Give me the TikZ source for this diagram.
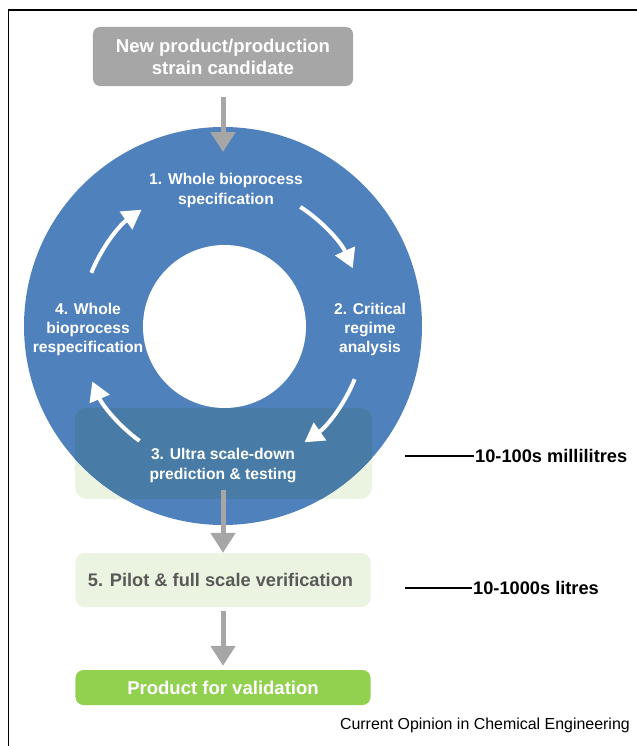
\documentclass[tikz,border=0pt]{standalone}
\usepackage{fontspec}
\setmainfont{Liberation Sans}
\usetikzlibrary{arrows.meta,calc}
\definecolor{boxgray}{HTML}{A6A6A6}
\definecolor{ringblue}{HTML}{4F81BD}
\definecolor{palegreen}{HTML}{EAF4E0}
\definecolor{overlapblue}{RGB}{72,123,166}
\definecolor{prodgreen}{HTML}{92D050}
\definecolor{darktext}{HTML}{595959}
\begin{document}
\begin{tikzpicture}[x=1bp,y=1bp,
  box/.style={rounded corners=7bp, inner sep=0pt, align=center, text=white,
    font=\bfseries\fontsize{18.6}{22}\selectfont},
  steptext/.style={align=center, text=white, inner sep=0pt,
    font=\bfseries\fontsize{15.7}{19.5}\selectfont},
  flow/.style={draw=boxgray, line width=5bp, -{Triangle[length=20bp,width=24bp]}},
  cyc/.style={draw=white, line width=4bp, -{Triangle[length=19bp,width=21bp]}},
  scalelabel/.style={anchor=west, inner sep=1bp, font=\bfseries\fontsize{18.3}{20}\selectfont},
  scaleline/.style={line width=1.3bp}]
\useasboundingbox (0,0) rectangle (637,-746);
\draw[line width=1.5bp] (8.5,-746) -- (8.5,-10) -- (637,-10);
% start box
\node[box, fill=boxgray, minimum width=260bp, minimum height=59bp] (start) at (223,-56.5)
  {New product/production\\strain candidate};
% ultra scale-down box (under ring)
\node[box, fill=palegreen, minimum width=297bp, minimum height=91bp, rounded corners=12bp] (usd) at (223.5,-453.5) {};
% ring
\node[circle, fill=ringblue, minimum size=398bp, inner sep=0pt] (ring) at (223,-326) {};
\begin{scope}
  \clip (223,-326) circle[radius=199];
  \fill[overlapblue, rounded corners=12bp] (usd.south west) rectangle (usd.north east);
\end{scope}
\node[circle, fill=white, minimum size=163bp, inner sep=0pt] (hole) at (224.5,-326.5) {};
\coordinate (c) at (223,-326);
% step texts
\node[steptext] (s1) at (226,-190.5) {1. Whole bioprocess\\specification};
\node[steptext] (s2) at (370,-329.5) {2. Critical\\regime\\analysis};
\node[steptext] (s3) at (223,-465.5) {3. Ultra scale-down\\prediction \& testing};
\node[steptext] (s4) at (88,-329.5) {4. Whole\\bioprocess\\respecification};
% cycle arrows
\draw[cyc] ($(c)+(57:142)$) arc[start angle=57, end angle=24, radius=142];
\draw[cyc] ($(c)+(-22:142)$) arc[start angle=-22, end angle=-55, radius=142];
\draw[cyc] ($(c)+(-126:142)$) arc[start angle=-126, end angle=-157, radius=142];
\draw[cyc] ($(c)+(158:142)$) arc[start angle=158, end angle=125, radius=142];
% lower boxes
\node[box, fill=palegreen, text=darktext, minimum width=295bp, minimum height=54bp, rounded corners=9bp,
  font=\bfseries\fontsize{18.3}{22}\selectfont] (verif) at (223,-580)
  {5. Pilot \& full scale verification\hspace*{5bp}};
\node[box, fill=prodgreen, minimum width=295bp, minimum height=35bp, rounded corners=8bp] (product) at (223,-687.5)
  {Product for validation};
% flow arrows
\coordinate (a1e) at (223,-152);
\coordinate (a2s) at (223,-490);
\draw[flow, shorten <=11bp] (start) -- (a1e);
\draw[flow] (a2s) -- (verif);
\draw[flow, shorten <=4bp, shorten >=4bp] (verif) -- (product);
% scale labels
\node[scalelabel] (ml) at (474,-456) {10-100s millilitres};
\coordinate (ml0) at (405,-456);
\draw[scaleline] (ml0) -- (ml.west);
\node[scalelabel] (lt) at (472,-588) {10-1000s litres};
\coordinate (lt0) at (405,-588);
\draw[scaleline] (lt0) -- (lt.west);
% source
\node[anchor=east, inner sep=0pt, font=\fontsize{16}{18}\selectfont] (src) at (630,-725)
  {Current Opinion in Chemical Engineering};
\end{tikzpicture}
\end{document}
